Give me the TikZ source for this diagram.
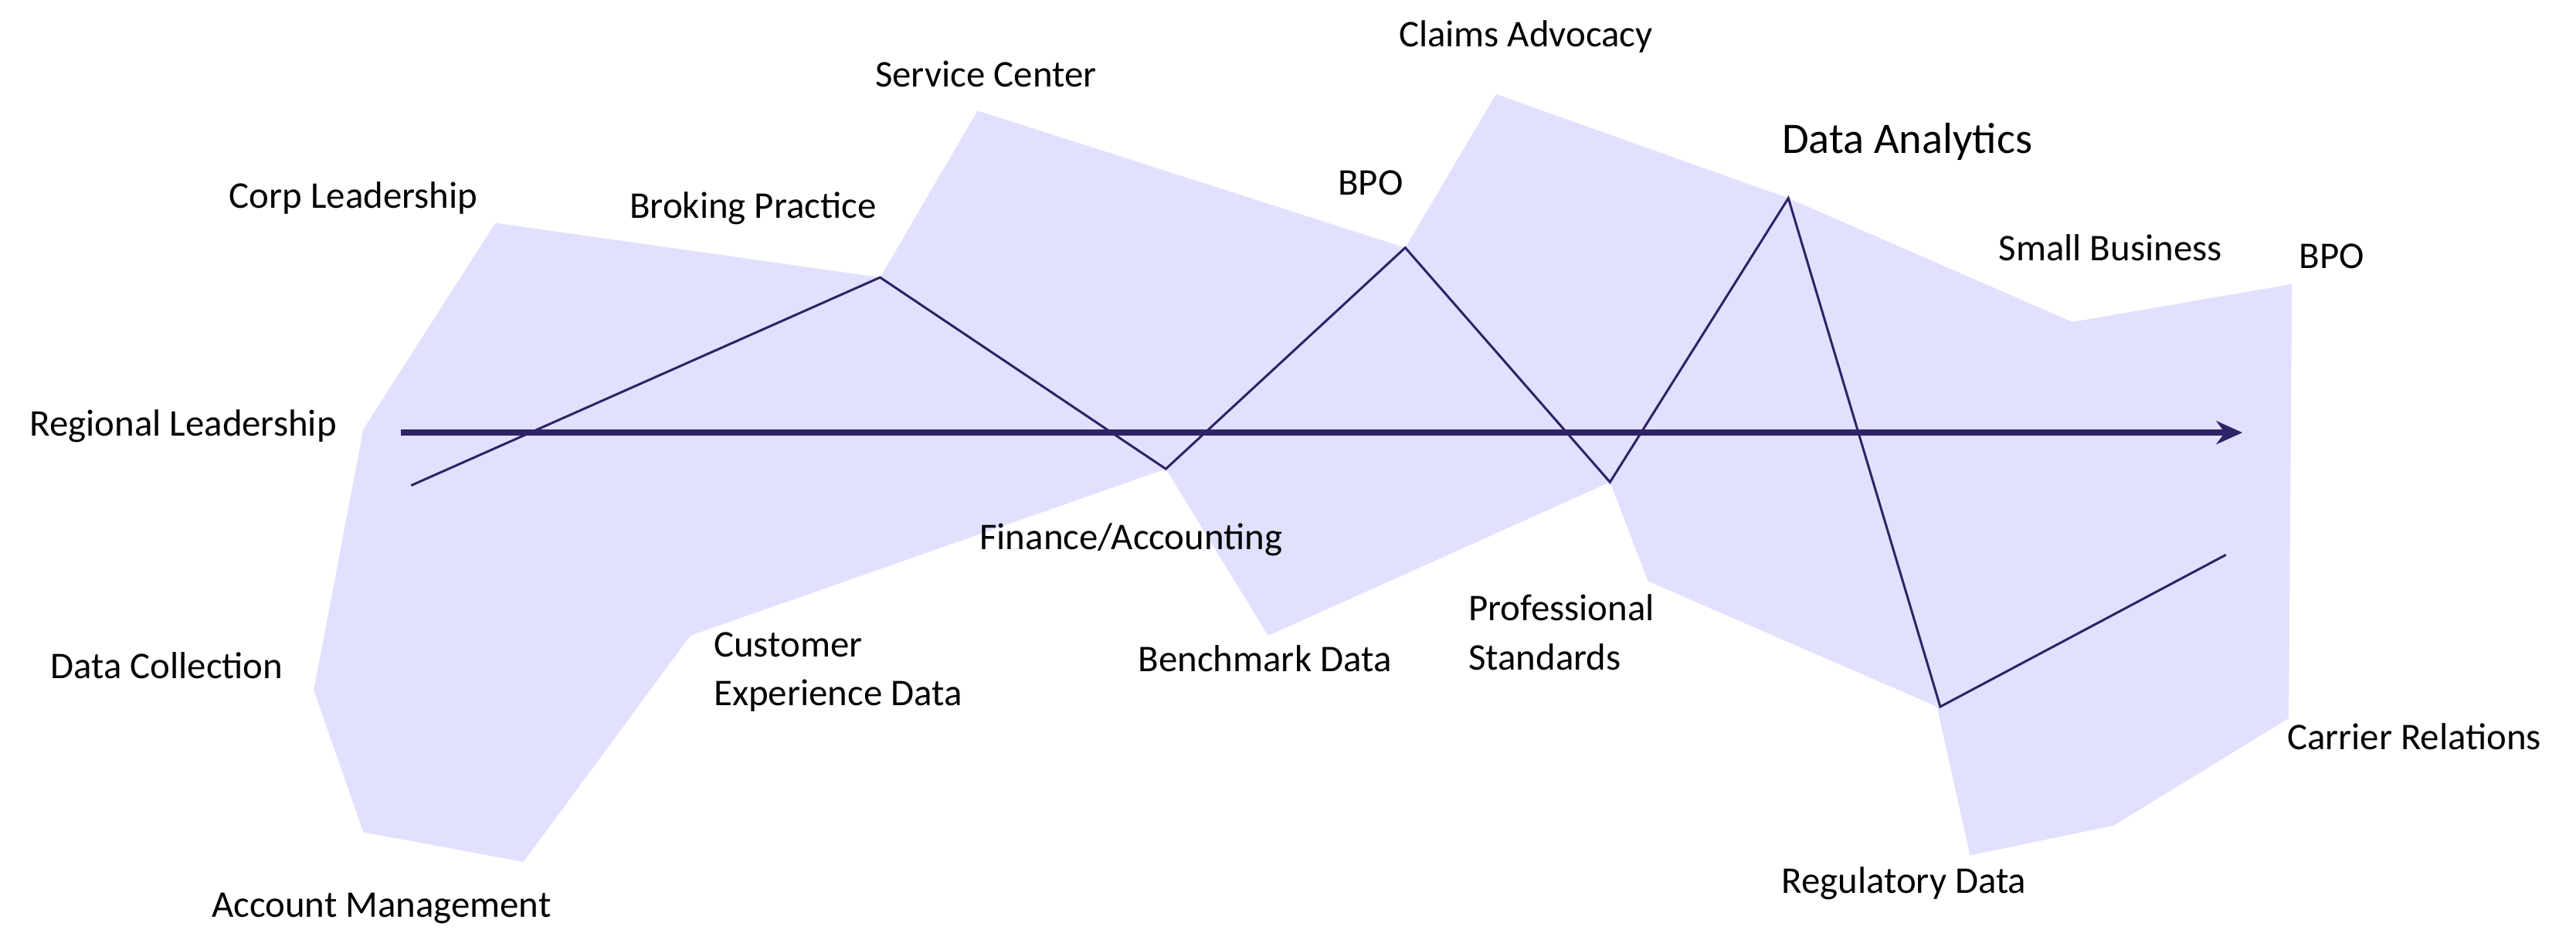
\documentclass[tikz,border=0pt]{standalone}
\usepackage{fontspec}
\setmainfont{Carlito}
\usetikzlibrary{arrows.meta}
\begin{document}
\begin{tikzpicture}[x=0.02cm,y=-0.02cm,
  lbl/.style={font=\fontsize{13}{15}\selectfont,inner sep=0pt},
  lbll/.style={lbl,align=left,anchor=west}]
\definecolor{lavfill}{RGB}{225,225,255}
\definecolor{navy}{RGB}{46,35,102}
\useasboundingbox (0,0) rectangle (1560,575);
\path[fill=lavfill] (300,135) -- (533,168) -- (592,67) -- (851,150) -- (906,57) -- (1083,120) -- (1255,195) -- (1388,172) -- (1386,435) -- (1280,500) -- (1193,518) -- (1173,428) -- (998,352) -- (975,292) -- (768,385) -- (706,284) -- (418,385) -- (317,522) -- (220,504) -- (190,418) -- (220,260) -- cycle;
\coordinate (z0) at (249,294);
\coordinate (z1) at (533,168);
\coordinate (z2) at (706,284);
\coordinate (z3) at (851,150);
\coordinate (z4) at (975,292);
\coordinate (z5) at (1083,120);
\coordinate (z6) at (1175,428);
\coordinate (z7) at (1348,336);
\draw[draw=navy,line width=0.8pt] (z0)--(z1)--(z2)--(z3)--(z4)--(z5)--(z6)--(z7);
\coordinate (a0) at (243,262);
\coordinate (a1) at (1358,262);
\draw[navy,line width=2.2pt,-{Stealth[length=9pt,width=8pt]}] (a0)--(a1);
\node[lbl] (n1) at (214,120) {Corp Leadership};
\node[lbl] (n2) at (456,126) {Broking Practice};
\node[lbl] (n3) at (597,45) {Service Center};
\node[lbl] (n4) at (830,111) {BPO};
\node[lbl] (n5) at (924,22) {Claims Advocacy};
\node[lbl,font=\fontsize{15}{17}\selectfont] (n6) at (1155,86) {Data Analytics};
\node[lbl] (n7) at (1278,150) {Small Business};
\node[lbl] (n8) at (1412,155) {BPO};
\node[lbl] (n9) at (111,258) {Regional Leadership};
\node[lbl] (n10) at (101,403) {Data Collection};
\node[lbl] (n11) at (231,550) {Account Management};
\node[lbll] (n12) at (432,407) {Customer\\[2pt]Experience Data};
\node[lbl] (n13) at (685,327) {Finance/Accounting};
\node[lbl] (n14) at (766,399) {Benchmark Data};
\node[lbll] (n15) at (889,383) {Professional\\[2pt]Standards};
\node[lbl] (n16) at (1153,535) {Regulatory Data};
\node[lbl] (n17) at (1462,446) {Carrier Relations};
\end{tikzpicture}
\end{document}
